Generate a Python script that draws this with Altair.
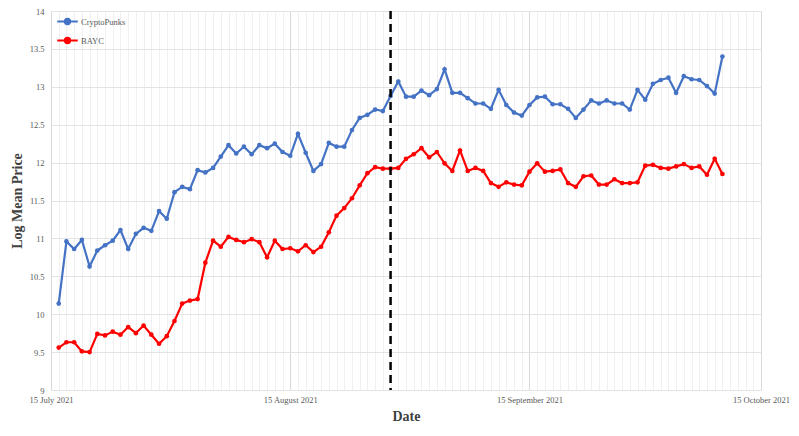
"""
Log mean price of CryptoPunks vs BAYC, Jul-Oct 2021
"""
import pandas as pd
import altair as alt

# Daily observations, 16 July 2021 to 10 October 2021
start_date = "2021-07-16"
n_days = 87

cryptopunks = [
    10.14, 10.96, 10.86, 10.98, 10.63, 10.84, 10.91, 10.97, 11.11, 10.86,
    11.06, 11.14, 11.10, 11.36, 11.26, 11.61, 11.68, 11.65, 11.90, 11.87,
    11.93, 12.08, 12.23, 12.12, 12.21, 12.11, 12.23, 12.19, 12.25, 12.14,
    12.09, 12.38, 12.13, 11.89, 11.98, 12.26, 12.21, 12.21, 12.43, 12.59,
    12.63, 12.70, 12.68, 12.88, 13.07, 12.87, 12.87, 12.95, 12.89, 12.97,
    13.23, 12.92, 12.92, 12.85, 12.78, 12.78, 12.71, 12.96, 12.76, 12.66,
    12.62, 12.76, 12.86, 12.87, 12.77, 12.77, 12.71, 12.59, 12.70, 12.82,
    12.78, 12.82, 12.78, 12.78, 12.70, 12.96, 12.83, 13.04, 13.09, 13.12,
    12.92, 13.14, 13.10, 13.09, 13.01, 12.91, 13.40,
]

bayc = [
    9.56, 9.63, 9.63, 9.51, 9.50, 9.74, 9.72, 9.77, 9.73, 9.83,
    9.75, 9.85, 9.73, 9.61, 9.71, 9.91, 10.14, 10.18, 10.20, 10.68,
    10.97, 10.89, 11.02, 10.98, 10.95, 10.99, 10.95, 10.75, 10.97, 10.86,
    10.87, 10.83, 10.91, 10.82, 10.89, 11.08, 11.30, 11.40, 11.53, 11.70,
    11.86, 11.94, 11.92, 11.92, 11.93, 12.05, 12.11, 12.19, 12.07, 12.14,
    11.99, 11.89, 12.16, 11.89, 11.93, 11.89, 11.73, 11.68, 11.74, 11.71,
    11.70, 11.88, 11.99, 11.88, 11.89, 11.91, 11.73, 11.68, 11.82, 11.83,
    11.71, 11.71, 11.78, 11.73, 11.73, 11.74, 11.96, 11.97, 11.93, 11.92,
    11.95, 11.98, 11.93, 11.95, 11.84, 12.05, 11.85,
]

series_names = ["CryptoPunks", "BAYC"]
series_colors = ["#4472C4", "#FF0000"]
event_date = ["2021-08-28"]

dates = pd.date_range(start_date, periods=n_days, freq="D").strftime("%Y-%m-%d")
df = pd.concat([
    pd.DataFrame({"date": dates, "price": cryptopunks, "series": "CryptoPunks"}),
    pd.DataFrame({"date": dates, "price": bayc, "series": "BAYC"}),
])
event_df = pd.DataFrame({"date": event_date})

serif = "Liberation Serif, Times New Roman, serif"
label_color = "#595959"

x_scale = alt.Scale(
    type="utc",
    domain=[alt.DateTime(year=2021, month=7, date=15, utc=True),
            alt.DateTime(year=2021, month=10, date=15, utc=True)],
)

x_axis = alt.Axis(
    title="Date",
    tickCount={"interval": "day", "step": 1},
    labelExpr="utcdate(datum.value) == 15 ? utcFormat(datum.value, '%-d %B %Y') : ''",
    labelOverlap=False,
    labelFlush=False,
    labelBound=False,
    labelFont=serif,
    labelFontSize=8.5,
    labelColor=label_color,
    ticks=False,
    domain=False,
    grid=True,
    gridColor={"condition": {"test": "utcdate(datum.value) == 15", "value": "#d9d9d9"},
               "value": "#f0f0f0"},
    labelPadding=5,
    titlePadding=6,
)

y_axis = alt.Axis(
    title="Log Mean Price",
    values=[9, 9.5, 10, 10.5, 11, 11.5, 12, 12.5, 13, 13.5, 14],
    format=".1~f",
    labelFont=serif,
    labelFontSize=8.5,
    labelColor=label_color,
    ticks=False,
    domain=False,
    gridColor="#e3e3e3",
    labelPadding=7,
    titlePadding=5,
)

legend_symbol = ("M-1,0L1,0M0.25,0A0.25,0.25,0,1,1,-0.25,0"
                 "A0.25,0.25,0,1,1,0.25,0Z")

lines = alt.Chart(df).mark_line(
    strokeWidth=2.2,
    point=alt.OverlayMarkDef(size=22, filled=True, opacity=1),
).encode(
    x=alt.X("date:T", scale=x_scale, axis=x_axis),
    y=alt.Y("price:Q", scale=alt.Scale(domain=[9, 14], nice=False), axis=y_axis),
    color=alt.Color(
        "series:N",
        scale=alt.Scale(domain=series_names, range=series_colors),
        legend=alt.Legend(
            title=None,
            orient="none",
            legendX=5,
            legendY=-1,
            symbolType=legend_symbol,
            symbolSize=420,
            symbolStrokeWidth=2.2,
            symbolOpacity=1,
            labelFont=serif,
            labelFontSize=8.5,
            labelColor=label_color,
            labelOffset=2,
            rowPadding=-1,
            padding=0,
        ),
    ),
    detail="series:N",
)

event_line = alt.Chart(event_df).mark_rule(
    color="black", strokeWidth=2.5, strokeDash=[8, 5]
).encode(x="date:T")

chart = alt.layer(lines, event_line).properties(
    width=710,
    height=379,
    autosize=alt.AutoSizeParams(type="none"),
    padding={"left": 43, "top": 3, "right": 30, "bottom": 37},
).configure_view(
    stroke=None
).configure_axis(
    titleFont=serif,
    titleFontSize=14,
    titleFontWeight="bold",
    titleColor="#404040",
)

chart.save("out.html", embed_options={"renderer": "svg", "actions": False})
